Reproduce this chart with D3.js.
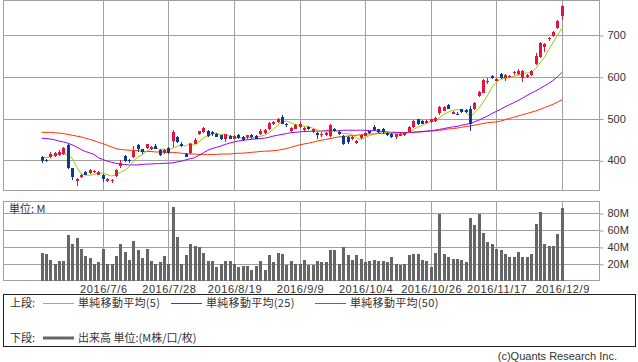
<!DOCTYPE html>
<html><head><meta charset="utf-8">
<script src="https://cdn.jsdelivr.net/npm/d3@7/dist/d3.min.js"></script>
<style>
html,body{margin:0;padding:0;background:#fff;}
svg{display:block;}
text{font-family:"Liberation Sans",Arial,sans-serif;fill:#333;}
.jp{font-family:"Noto Sans CJK JP",sans-serif;}
</style></head><body>
<svg id="c" width="638" height="362"></svg>
<script>
// ---- data ----
const dates = [
"2016-06-16","2016-06-17","2016-06-20","2016-06-21","2016-06-22","2016-06-23","2016-06-24","2016-06-27","2016-06-28","2016-06-29",
"2016-06-30","2016-07-01","2016-07-04","2016-07-05","2016-07-06","2016-07-07","2016-07-08","2016-07-11","2016-07-12","2016-07-13",
"2016-07-14","2016-07-15","2016-07-19","2016-07-20","2016-07-21","2016-07-22","2016-07-25","2016-07-26","2016-07-27","2016-07-28",
"2016-07-29","2016-08-01","2016-08-02","2016-08-03","2016-08-04","2016-08-05","2016-08-08","2016-08-09","2016-08-10","2016-08-12",
"2016-08-15","2016-08-16","2016-08-17","2016-08-18","2016-08-19","2016-08-22","2016-08-23","2016-08-24","2016-08-25","2016-08-26",
"2016-08-29","2016-08-30","2016-08-31","2016-09-01","2016-09-02","2016-09-05","2016-09-06","2016-09-07","2016-09-08","2016-09-09",
"2016-09-12","2016-09-13","2016-09-14","2016-09-15","2016-09-16","2016-09-20","2016-09-21","2016-09-23","2016-09-26","2016-09-27",
"2016-09-28","2016-09-29","2016-09-30","2016-10-03","2016-10-04","2016-10-05","2016-10-06","2016-10-07","2016-10-11","2016-10-12",
"2016-10-13","2016-10-14","2016-10-17","2016-10-18","2016-10-19","2016-10-20","2016-10-21","2016-10-24","2016-10-25","2016-10-26",
"2016-10-27","2016-10-28","2016-10-31","2016-11-01","2016-11-02","2016-11-04","2016-11-07","2016-11-08","2016-11-09","2016-11-10",
"2016-11-11","2016-11-14","2016-11-15","2016-11-16","2016-11-17","2016-11-18","2016-11-21","2016-11-22","2016-11-24","2016-11-25",
"2016-11-28","2016-11-29","2016-11-30","2016-12-01","2016-12-02","2016-12-05","2016-12-06","2016-12-07","2016-12-08","2016-12-09"];

const opens = [
408,401,408,411,412,414,437,381,350,361, 372,370,371,366,366,351,350,362,386,411,
400,407,436,426,429,427,434,425,417,430, 446,455,440,416,417,440,462,467,470,467,
464,460,450,458,452,460,456,455,460,457, 463,466,475,486,492,504,488,470,476,480,
472,480,468,466,461,460,458,475,467,459, 456,450,441,454,459,469,480,474,475,465,
464,455,459,461,468,479,498,494,490,492, 493,514,519,532,512,512,522,520,522,522,
554,562,588,602,591,606,596,599,608,607, 598,599,604,631,648,672,690,698,716,745];

const highs = [
410,403,421,420,424,432,440,382,358,367, 375,378,376,374,367,358,356,378,400,413,
404,435,440,428,440,434,438,427,427,432, 472,458,444,418,441,454,471,479,472,470,
466,461,463,460,460,462,458,461,462,460, 474,474,491,494,502,508,490,479,486,491,
479,482,476,468,467,467,486,477,469,461, 458,458,449,461,468,471,484,476,478,467,
466,464,466,468,481,496,500,496,496,500, 504,530,530,534,518,516,524,522,530,540,
566,594,596,604,598,608,606,604,614,618, 616,606,616,656,684,682,696,710,735,772];

const lows = [
393,397,406,409,410,412,379,353,339,358, 364,368,369,364,349,349,346,360,382,397,
393,405,419,416,427,425,426,410,415,415, 433,441,433,407,415,438,460,465,456,459,
455,449,445,450,450,452,446,452,452,450, 461,464,473,484,489,486,480,468,474,478,
470,472,466,452,456,458,456,467,460,436, 440,448,439,450,457,463,470,466,462,458,
454,452,457,459,466,477,485,486,488,490, 491,508,517,522,510,508,514,513,471,520,
551,560,582,594,589,595,590,596,604,605, 588,597,602,628,646,660,686,696,715,736];

const closes = [
398,399,416,418,419,430,381,359,356,364, 366,376,374,372,355,355,354,377,393,399,
398,423,428,419,439,432,428,413,425,417, 468,443,435,409,439,448,470,477,458,462,
456,450,462,452,458,454,448,460,455,452, 471,472,490,492,498,488,484,478,484,488,
477,474,474,460,464,465,484,469,462,440, 443,456,447,460,466,466,472,468,467,461,
456,462,464,466,480,495,488,488,494,498, 502,528,528,524,516,511,516,515,487,538,
564,592,590,596,594,596,604,601,612,614, 614,604,614,650,682,678,692,708,733,770];

// volume, millions
const volumes = [
33,31,25,20,23,23,54.5,43,50,37, 29,27,20,22,37,20,20,29,43.5,34,
25,47,36,27,37,23,20,22,29,20, 87,52,20,30,43.5,41.5,40,33,23,23,
16,20,23,23,20,16,17,17,12,17, 23,12,30.6,21.5,33,31,18.5,23,20,20,
24,18.5,18.5,23,22,22,36,36,20,40, 30,24,30,26,21.5,23,25,23,23,21.5,
27.5,20,19,20,30,32,32,24,23,16, 33,79,31,28.6,26,26,25,21.5,74.5,66,
79,57,46,44,38,36,31,28.6,27.5,34.5, 28.6,28.6,32,67.5,81.5,44,41.5,41.5,55.7,86];

// moving averages
const ma5 = [
408,406,409,413,416,416,413,405,385,368, 365,364,366,370,369,366,362,366,371,376,
384,398,408,413,421,428,430,426,427,423, 430,433,438,434,442,435,444,454,458,463,
465,461,462,458,456,455,453,454,455,454, 457,460,466,474,485,492,494,490,486,484,
482,480,477,473,470,467,469,472,469,464, 464,462,454,449,454,459,463,466,468,467,
465,463,462,462,466,473,479,483,489,493, 494,502,510,515,520,521,521,516,505,513,
524,539,555,575,587,594,596,598,601,604, 607,609,610,619,633,646,665,682,699,716];

const ma25 = [
453,452,451,449,446,444,441,437,432,426, 421,418,414,406,402,398,395,393,391,390,
389,389,389,390,391,391,392,392,393,393, 394,396,398,401,404,406,412,418,424,428,
431,434,438,441,444,446,448,449,450,451, 452,453,455,458,460,462,464,466,467,468,
469,469,470,470,470,471,471,471,471,472, 472,472,472,472,472,471,471,470,469,468,
467,467,466,466,466,467,468,469,470,471, 472,474,476,478,480,481,484,486,488,492,
496,501,506,512,517,522,528,533,538,543, 549,555,561,566,572,578,584,591,600,610];

const ma50 = [
467,467,467,466,465,464,462,460,458,456, 453,450,447,443,440,436,432,428,426,425,
424,424,423,422,421,421,420,420,420,419, 419,418,417,416,415,415,414,414,414,414,
414,415,415,415,416,417,417,418,419,420, 421,422,422,423,424,426,428,431,434,437,
439,441,443,446,448,450,452,454,456,457, 458,459,460,461,462,463,463,464,464,465,
465,466,466,466,467,467,468,468,469,470, 471,472,473,475,476,477,479,481,482,484,
486,488,490,491,492,494,497,500,503,506, 509,512,515,518,522,526,530,534,539,545];

const tickDates  = ["2016-07-06","2016-07-28","2016-08-19","2016-09-09","2016-10-04","2016-10-26","2016-11-17","2016-12-09"];
const tickLabels = ["2016/7/6","2016/7/28","2016/8/19","2016/9/9","2016/10/4","2016/10/26","2016/11/17","2016/12/9"];
const priceTicks = [400,500,600,700];
const volumeTicks = [20,40,60,80];
const volumeTickLabels = ["20M","40M","60M","80M"];

// ---- layout ----
const L=3.5, R=599.5, T=0.5, B=190.5, VT=201.5, VB=280.5;
const gridC="#a0a0a0";
const upC="#e8123e", dnC="#0c3a94";
const svg=d3.select("#c");

const x=d3.scalePoint().domain(dates).range([41.6,561.8]);
const y=d3.scaleLinear().domain([400,700]).range([160.3,35]);
const yv=d3.scaleLinear().domain([0,80]).range([280.6,213.2]);
const px=d=>Math.round(x(d));

// grid - price
const gp=svg.append("g");
gp.selectAll("line.h").data(priceTicks).join("line")
  .attr("x1",L).attr("x2",R).attr("y1",d=>Math.round(y(d))+0.5).attr("y2",d=>Math.round(y(d))+0.5)
  .attr("stroke",gridC);
gp.selectAll("line.v").data(tickDates).join("line")
  .attr("x1",d=>px(d)+0.5).attr("x2",d=>px(d)+0.5).attr("y1",T).attr("y2",B)
  .attr("stroke",gridC);
gp.append("rect").attr("x",L).attr("y",T).attr("width",R-L).attr("height",B-T)
  .attr("fill","none").attr("stroke",gridC);

// grid - volume
const gv=svg.append("g");
gv.selectAll("line.h").data(volumeTicks).join("line")
  .attr("x1",L).attr("x2",R).attr("y1",d=>Math.round(yv(d))+0.5).attr("y2",d=>Math.round(yv(d))+0.5)
  .attr("stroke",gridC);
gv.selectAll("line.v").data(tickDates).join("line")
  .attr("x1",d=>px(d)+0.5).attr("x2",d=>px(d)+0.5).attr("y1",VT).attr("y2",VB)
  .attr("stroke",gridC);
gv.append("rect").attr("x",L).attr("y",VT).attr("width",R-L).attr("height",VB-VT)
  .attr("fill","none").attr("stroke",gridC);

// right axes
const ax1=svg.append("g").attr("transform",`translate(${R},0)`)
  .call(d3.axisRight(y).tickValues(priceTicks).tickSize(4).tickSizeOuter(0).tickPadding(4));
const ax2=svg.append("g").attr("transform",`translate(${R},0)`)
  .call(d3.axisRight(yv).tickValues(volumeTicks).tickFormat((d,i)=>volumeTickLabels[i]).tickSize(4).tickSizeOuter(0).tickPadding(4));
[ax1,ax2].forEach(a=>{
  a.select(".domain").remove();
  a.selectAll("line").attr("stroke",gridC).attr("transform","translate(0,0.5)");
  a.selectAll("text").attr("font-size",11).attr("fill","#333")
   .attr("font-family","'Liberation Sans',Arial,sans-serif");
});

// date labels
svg.append("g").selectAll("text").data(tickDates).join("text")
  .attr("x",d=>x(d)+1).attr("y",292.5).attr("text-anchor","middle")
  .attr("font-size",11).attr("letter-spacing",0.6)
  .text((d,i)=>tickLabels[i]);

// volume bars
svg.append("g").attr("shape-rendering","crispEdges").selectAll("rect").data(dates).join("rect")
  .attr("x",d=>px(d)-1).attr("width",3)
  .attr("y",(d,i)=>yv(volumes[i])).attr("height",(d,i)=>VB-yv(volumes[i]))
  .attr("fill","#666");

svg.append("text").attr("class","jp").attr("x",9).attr("y",213).attr("font-size",11).text("単位: M");

// moving averages
const line=d3.line().x((v,i)=>x(dates[i])).y(v=>y(v));
[[ma50,"#ff3300"],[ma25,"#9900ff"],[ma5,"#99cc00"]].forEach(([arr,c])=>{
  svg.append("path").datum(arr).attr("d",line).attr("fill","none").attr("stroke",c)
    .attr("stroke-width",1);
});

// candles
const cg=svg.append("g").attr("shape-rendering","crispEdges");
dates.forEach((d,i)=>{
  const up=closes[i]>=opens[i];
  const c=up?upC:dnC;
  const cx=px(d);
  cg.append("line").attr("x1",cx+0.5).attr("x2",cx+0.5)
    .attr("y1",y(highs[i])).attr("y2",y(lows[i])).attr("stroke",c);
  const y0=y(Math.max(opens[i],closes[i])), y1=y(Math.min(opens[i],closes[i]));
  cg.append("rect").attr("x",cx-1).attr("width",3)
    .attr("y",y0).attr("height",Math.max(1,y1-y0)).attr("fill",c);
});

// legend
const lg=svg.append("g");
lg.append("rect").attr("x",3.5).attr("y",294.5).attr("width",632).attr("height",52)
  .attr("fill","none").attr("stroke","#222");
const legendItems=[
  {x:43,label:"単純移動平均(5)",c:"#99cc00"},
  {x:171,label:"単純移動平均(25)",c:"#9900ff"},
  {x:315,label:"単純移動平均(50)",c:"#ff3300"}];
lg.append("text").attr("class","jp").attr("x",10).attr("y",307).attr("font-size",11).text("上段:");
legendItems.forEach(it=>{
  lg.append("line").attr("x1",it.x).attr("x2",it.x+31).attr("y1",303.5).attr("y2",303.5).attr("stroke",it.c);
  lg.append("text").attr("class","jp").attr("x",it.x+35).attr("y",307).attr("font-size",11)
    .attr("letter-spacing",0.3).text(it.label);
});
lg.append("text").attr("class","jp").attr("x",10).attr("y",342).attr("font-size",11).text("下段:");
lg.append("line").attr("x1",43).attr("x2",74).attr("y1",338).attr("y2",338).attr("stroke","#666").attr("stroke-width",3);
lg.append("text").attr("class","jp").attr("x",78).attr("y",342).attr("font-size",11).text("出来高 単位:(M株/口/枚)");

svg.append("text").attr("x",617).attr("y",360).attr("text-anchor","end").attr("font-size",11)
  .attr("fill","#444").text("(c)Quants Research Inc.");
</script>
</body></html>
